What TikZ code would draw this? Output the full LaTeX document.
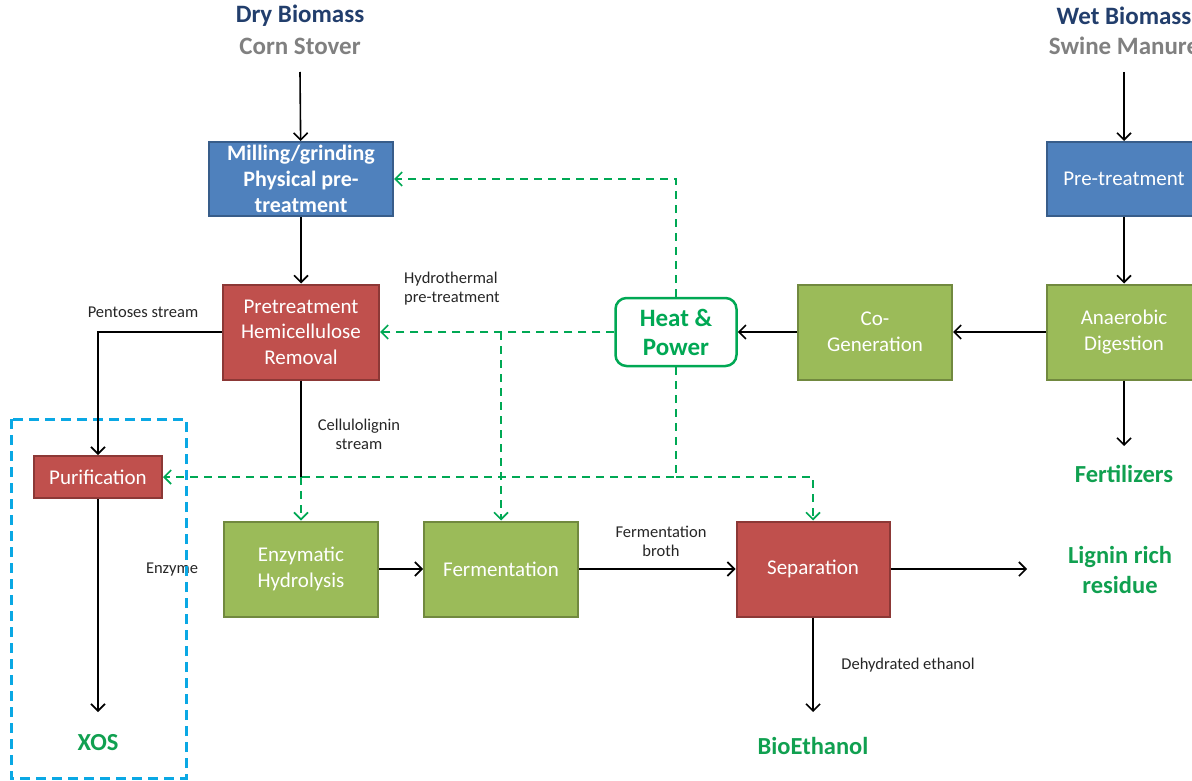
\documentclass[tikz,border=0pt]{standalone}
\usepackage{fontspec}
\setmainfont{Carlito}
\usetikzlibrary{arrows.meta,positioning}

\definecolor{procblue}{RGB}{79,129,189}
\definecolor{procblueline}{RGB}{56,93,138}
\definecolor{procred}{RGB}{192,80,77}
\definecolor{procredline}{RGB}{140,56,54}
\definecolor{procgreen}{RGB}{155,187,89}
\definecolor{procgreenline}{RGB}{113,137,63}
\definecolor{heatgreen}{RGB}{0,168,84}
\definecolor{prodgreen}{RGB}{16,160,80}
\definecolor{feednavy}{RGB}{34,62,108}
\definecolor{feedgray}{RGB}{128,128,128}
\definecolor{xosblue}{RGB}{10,168,228}

\tikzset{
  box/.style={draw, line width=2pt, minimum width=154pt, minimum height=95pt,
    align=center, text=white, inner sep=2pt, font=\fontsize{21}{25.5}\selectfont},
  bluebox/.style={box, fill=procblue, draw=procblueline},
  redbox/.style={box, fill=procred, draw=procredline},
  greenbox/.style={box, fill=procgreen, draw=procgreenline},
  heatbox/.style={draw=heatgreen, fill=white, line width=2.5pt, rounded corners=11pt,
    minimum width=121pt, minimum height=68pt, align=center, text=heatgreen,
    font=\bfseries\fontsize{25}{29}\selectfont, inner sep=1pt},
  feed/.style={font=\bfseries\fontsize{25}{30}\selectfont},
  product/.style={font=\bfseries\fontsize{24.5}{30}\selectfont, text=prodgreen, align=center},
  lbl/.style={font=\fontsize{16.5}{19}\selectfont, text=black!85, align=center, inner sep=1pt},
  flow/.style={-{Straight Barb[length=7pt,width=14pt,line width=1.6pt]}, line width=1.6pt},
  plainflow/.style={line width=1.6pt},
  heatflow/.style={-{Straight Barb[length=7pt,width=14pt,line width=1.6pt]}, heatgreen,
    line width=1.6pt, dash pattern=on 8pt off 6pt},
  xosframe/.style={draw=xosblue, line width=3pt, dash pattern=on 10pt off 6pt}
}

\begin{document}
\begin{tikzpicture}[x=1pt, y=-1pt]
    \clip (0,0) rectangle (1192,781);

    % Feedstocks
    \node[feed, text=feednavy] (drytitle) at (300,16) {Dry Biomass};
    \node[feed, text=feedgray] (drysub) at (300,46) {Corn Stover};
    \node[feed, text=feednavy] (wettitle) at (1124,16) {Wet Biomass};
    \node[feed, text=feedgray] (wetsub) at (1124,46) {Swine Manure};
    \coordinate (drytop) at (300,72);
    \coordinate (wettop) at (1124,72);

    % Process units
    \node[bluebox, font=\bfseries\fontsize{22}{26}\selectfont, minimum width=184pt, minimum height=74pt]
      (mill) at (301,179) {Milling/grinding\\Physical pre-\\treatment};
    \node[redbox, minimum width=156pt] (pretreat) at (301,332) {Pretreatment\\Hemicellulose\\Removal};
    \node[redbox, minimum width=128pt, minimum height=42pt] (purif) at (98,477) {Purification};
    \node[greenbox] (enzym) at (301,569) {Enzymatic\\Hydrolysis};
    \node[greenbox] (ferment) at (501,569) {Fermentation};
    \node[redbox, minimum width=153pt] (separ) at (813,569) {Separation};
    \node[heatbox] (heat) at (676,332) {Heat \&\\Power};
    \node[greenbox] (cogen) at (875,332) {Co-\\Generation};
    \node[greenbox] (anaer) at (1124,332) {Anaerobic\\Digestion};
    \node[bluebox, minimum height=74pt] (wetpre) at (1124,179) {Pre-treatment};

    % Products
    \node[product] (xos) at (98,743) {XOS};
    \node[product] (ethanol) at (813,746) {BioEthanol};
    \node[product] (lignin) at (1120,570) {Lignin rich\\residue};
    \node[product] (fert) at (1124,474) {Fertilizers};
    \coordinate (xosend) at (98,712);
    \coordinate (ethend) at (813,712);
    \coordinate (ligend) at (1027,569);
    \coordinate (fertend) at (1124,446);

    % Junctions
    \coordinate (jcell) at (enzym.north |- purif.east);
    \coordinate (jhyd) at (ferment.north |- pretreat.east);
    \coordinate (jlow) at (heat.south |- purif.east);
    \coordinate (jsep) at (separ.north |- purif.east);

    % Stream labels
    \node[lbl] (pentlbl) at (143,312) {Pentoses stream};
    \node[lbl, align=left, anchor=west] (hydlbl) at (403,289) {Hydrothermal\\pre-treatment};
    \node[lbl] (celllbl) at (359,434) {Cellulolignin\\stream};
    \node[lbl] (enzlbl) at (172,570) {Enzyme};
    \node[lbl] (brothlbl) at (661,541) {Fermentation\\broth};
    \node[lbl] (dehylbl) at (908,665) {Dehydrated ethanol};

    % XOS frame
    \draw[xosframe] (11,419) rectangle (186,778);

    % Material flows
    \draw[flow] (drytop) -- (mill);
    \draw[flow] (mill) -- (pretreat);
    \draw[flow] (pretreat.west) -| (purif.north);
    \draw[plainflow] (pretreat) -- (jcell);
    \draw[flow] (purif) -- (xosend);
    \draw[flow] (enzym) -- (ferment);
    \draw[flow] (ferment) -- (separ);
    \draw[flow] (separ.east) -- (ligend);
    \draw[flow] (separ) -- (ethend);
    \draw[flow] (wettop) -- (wetpre);
    \draw[flow] (wetpre) -- (anaer);
    \draw[flow] (anaer) -- (fertend);
    \draw[flow] (anaer) -- (cogen);
    \draw[flow] (cogen) -- (heat);

    % Heat and power supply
    \draw[heatflow] (heat.north) |- (mill.east);
    \draw[heatflow] (heat.west) -- (pretreat.east);
    \draw[heatflow] (jhyd) -- (ferment.north);
    \draw[heatflow] (heat.south) -- (jlow) -- (purif.east);
    \draw[heatflow] (jlow) -- (jsep) -- (separ.north);
    \draw[heatflow] (jcell) -- (enzym.north);
\end{tikzpicture}
\end{document}
